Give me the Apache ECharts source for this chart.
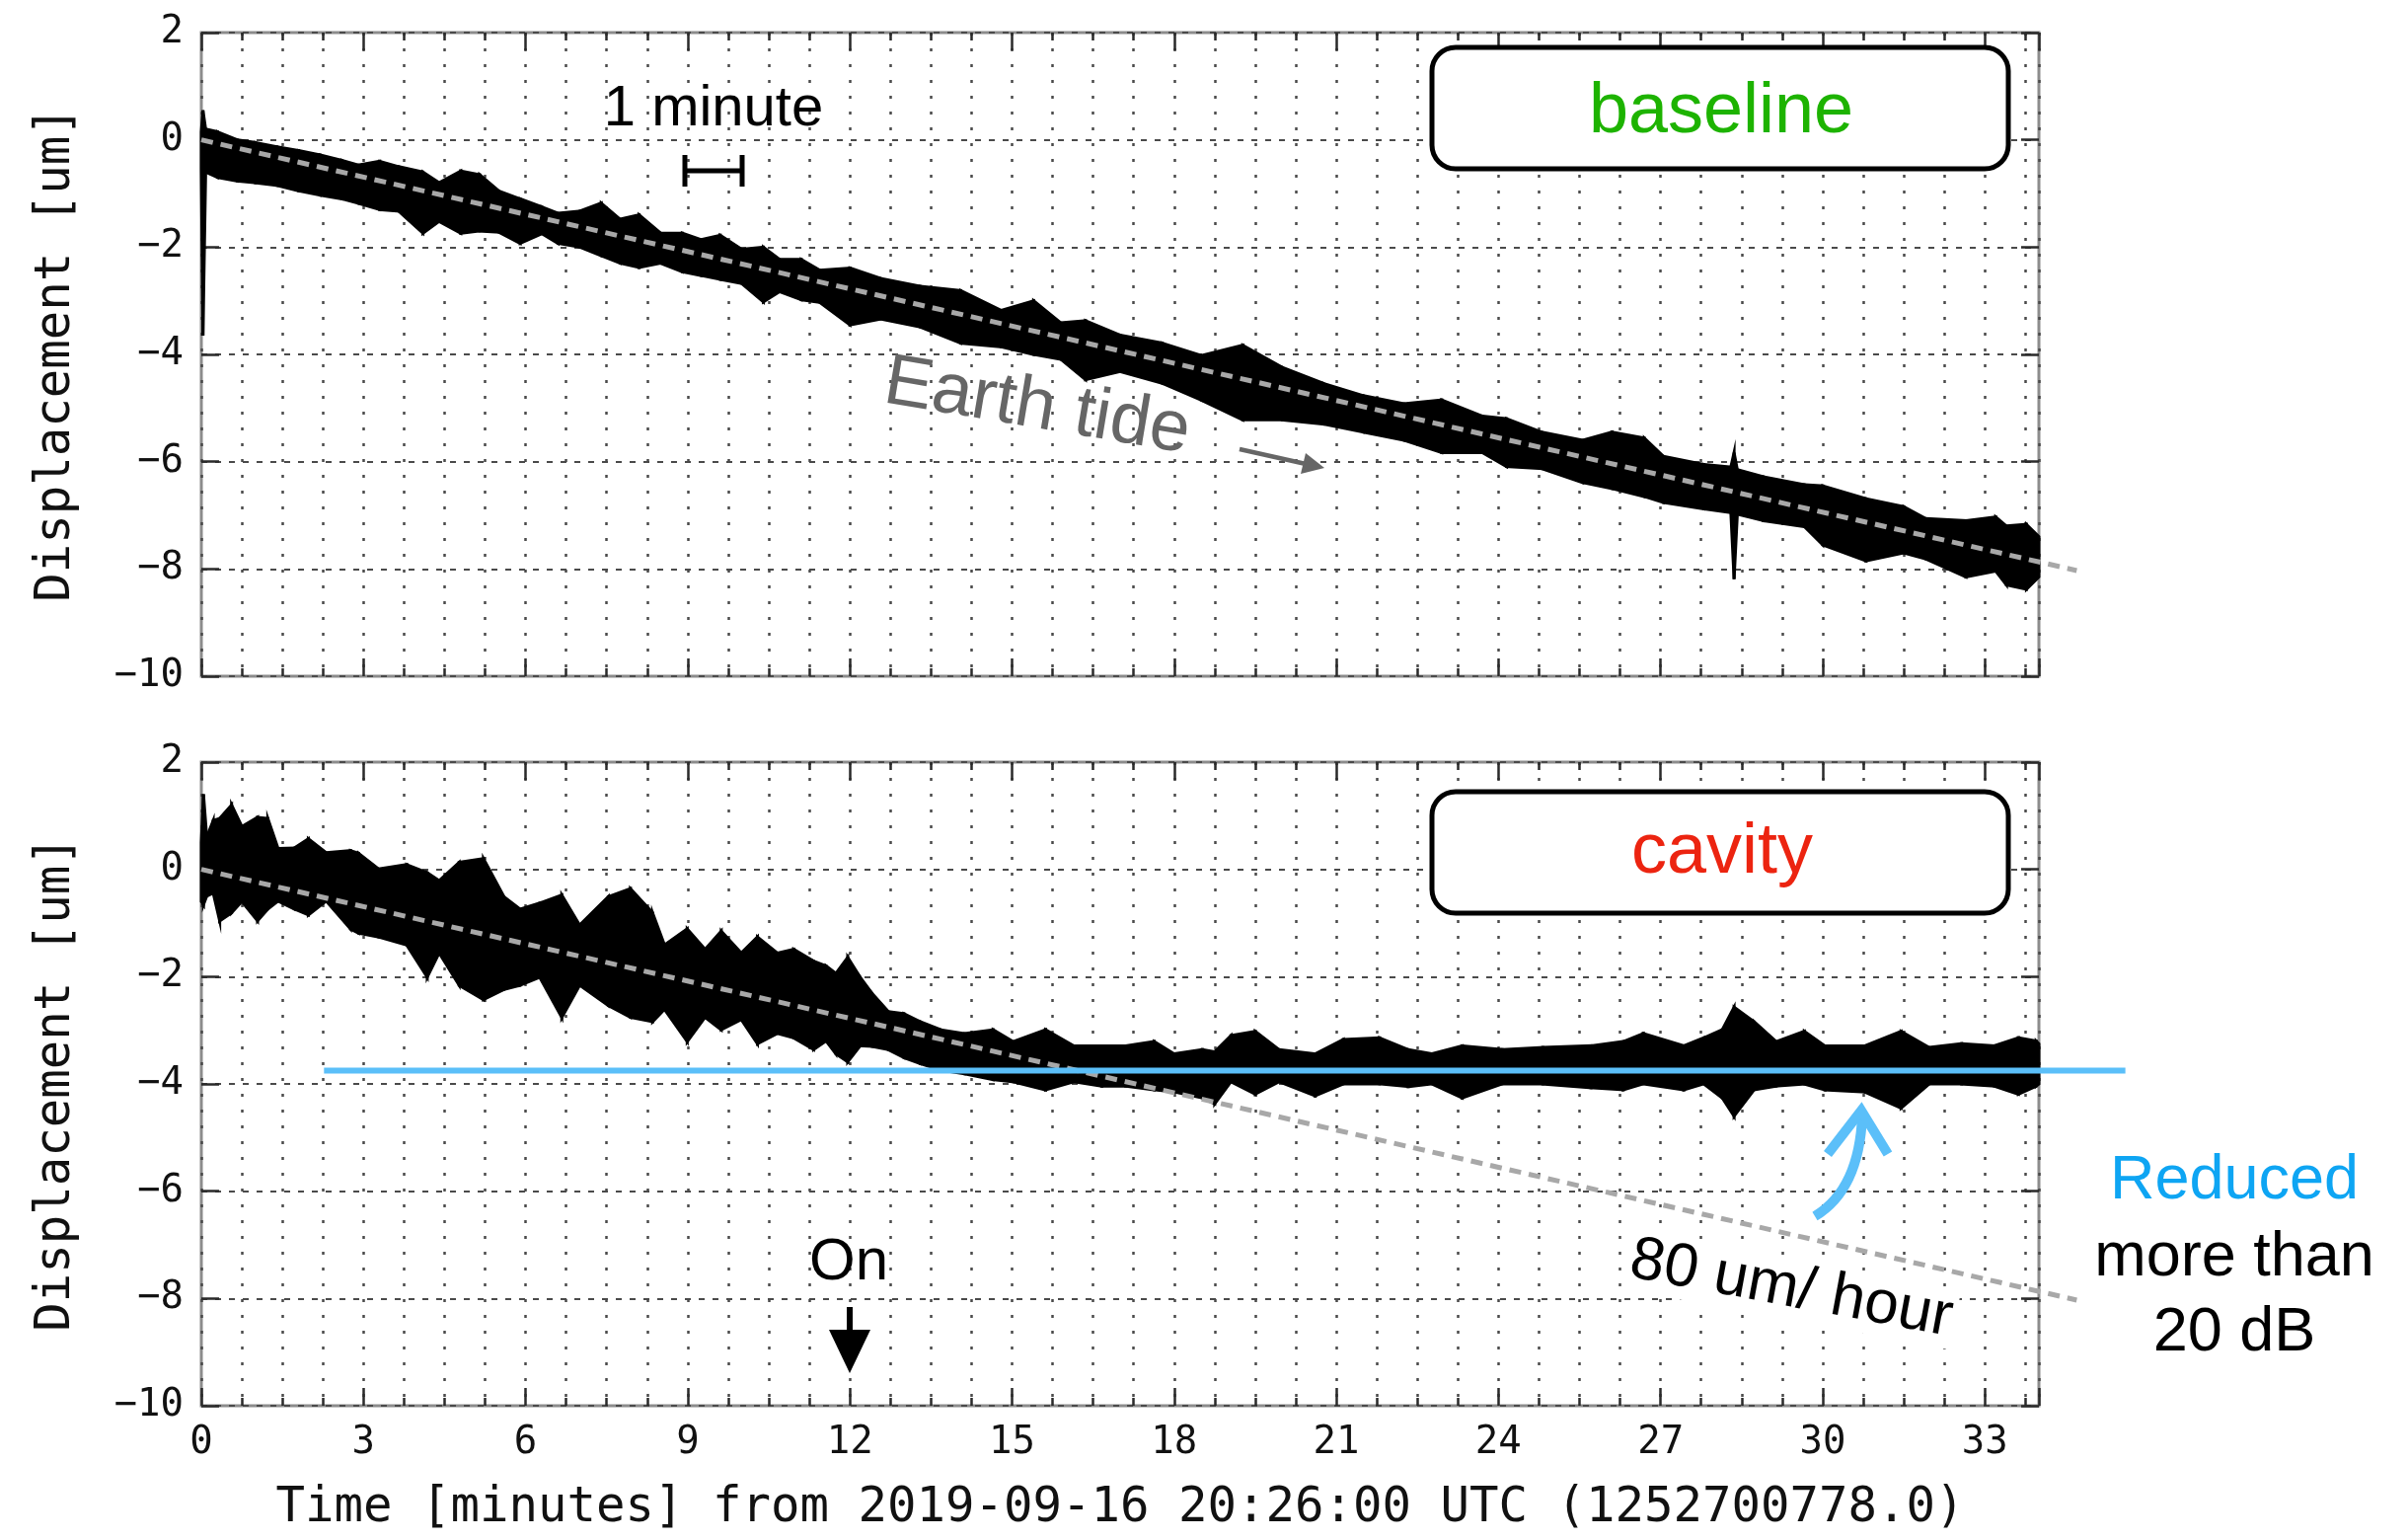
<!DOCTYPE html>
<html>
<head>
<meta charset="utf-8">
<script src="https://cdn.jsdelivr.net/npm/echarts@6/dist/echarts.min.js"></script>
<style>html,body{margin:0;padding:0;background:#fff}#c{width:2440px;height:1560px}</style>
</head>
<body>
<div id="c"></div>
<script>
// ---------- data ----------
// baseline panel: time [min], upper / lower envelope of the noisy trace [um]
const baselineT = [0,0.03,0.08,0.3,0.67,1.0,1.4,1.8,2.2,2.6,2.9,3.3,3.65,4.1,4.4,4.8,5.15,5.5,5.9,6.3,6.6,7.0,7.4,7.75,8.1,8.5,8.9,9.25,9.6,10.0,10.4,10.7,11.1,11.44,12.0,12.56,13.3,14.05,14.8,15.4,15.9,16.36,17.0,17.78,18.5,19.27,20.0,20.76,21.5,22.25,22.95,23.7,24.15,24.8,25.56,26.1,26.7,27.05,27.8,28.3,28.36,28.42,28.9,29.66,30.0,30.8,31.5,31.9,32.65,33.2,33.4,33.77,34.0];
const baselineUpper = [0.15,0.55,0.2,0.15,0.0,-0.05,-0.13,-0.2,-0.28,-0.38,-0.47,-0.4,-0.5,-0.6,-0.8,-0.58,-0.65,-0.95,-1.1,-1.25,-1.37,-1.33,-1.18,-1.48,-1.4,-1.74,-1.74,-1.86,-1.78,-2.04,-2.0,-2.23,-2.23,-2.43,-2.39,-2.58,-2.73,-2.81,-3.18,-3.0,-3.41,-3.37,-3.64,-3.79,-4.02,-3.83,-4.24,-4.54,-4.77,-4.92,-4.85,-5.15,-5.2,-5.45,-5.6,-5.45,-5.56,-5.9,-6.05,-6.1,-5.83,-6.15,-6.28,-6.43,-6.45,-6.69,-6.84,-7.06,-7.1,-7.03,-7.2,-7.17,-7.4];
const baselineLower = [-0.55,-3.65,-0.6,-0.7,-0.77,-0.8,-0.85,-0.95,-1.03,-1.1,-1.18,-1.3,-1.33,-1.74,-1.52,-1.74,-1.7,-1.72,-1.93,-1.75,-1.93,-2.0,-2.16,-2.3,-2.38,-2.3,-2.46,-2.53,-2.6,-2.68,-3.02,-2.83,-2.98,-3.03,-3.45,-3.34,-3.49,-3.79,-3.86,-4.0,-4.09,-4.47,-4.32,-4.54,-4.85,-5.22,-5.22,-5.3,-5.45,-5.6,-5.83,-5.83,-6.09,-6.13,-6.39,-6.5,-6.65,-6.76,-6.88,-6.95,-8.19,-6.98,-7.1,-7.21,-7.55,-7.85,-7.7,-7.81,-8.15,-8.04,-8.3,-8.38,-8.15];

// cavity panel
const cavityT = [0,0.04,0.1,0.22,0.34,0.56,0.75,1.04,1.23,1.42,1.72,1.98,2.31,2.76,2.91,3.28,3.8,4.18,4.4,4.77,5.22,5.6,5.9,6.26,6.67,7.0,7.53,7.94,8.35,8.57,8.99,9.32,9.62,9.99,10.29,10.66,10.96,11.33,11.56,11.74,11.96,12.19,12.41,12.71,13.0,13.3,13.68,14.12,14.65,15.02,15.62,16.14,16.66,17.1,17.63,18.0,18.52,18.75,19.05,19.5,19.94,20.61,21.13,21.8,22.33,22.77,23.33,24.07,24.82,25.71,26.31,26.68,27.43,27.8,28.14,28.36,28.73,29.14,29.66,30.04,30.78,31.45,31.97,32.57,33.17,33.62,33.95,34.0];
const cavityUpper = [0.5,1.4,0.6,0.91,0.95,1.2,0.8,0.97,0.95,0.39,0.4,0.57,0.31,0.35,0.3,0.01,0.09,-0.06,-0.21,0.13,0.2,-0.51,-0.74,-0.63,-0.48,-1.04,-0.51,-0.36,-0.81,-1.41,-1.11,-1.49,-1.15,-1.56,-1.26,-1.56,-1.49,-1.71,-1.8,-1.94,-1.64,-2.01,-2.31,-2.65,-2.69,-2.84,-2.99,-3.06,-2.99,-3.21,-2.99,-3.29,-3.29,-3.29,-3.21,-3.44,-3.36,-3.4,-3.1,-3.02,-3.36,-3.44,-3.17,-3.14,-3.36,-3.44,-3.29,-3.36,-3.32,-3.29,-3.21,-3.06,-3.29,-3.14,-2.99,-2.57,-2.84,-3.21,-3.02,-3.29,-3.29,-3.02,-3.32,-3.25,-3.29,-3.14,-3.2,-3.25];
const cavityLower = [-0.6,-0.66,-0.5,-0.44,-0.96,-0.81,-0.6,-0.96,-0.74,-0.59,-0.74,-0.85,-0.59,-1.11,-1.19,-1.26,-1.41,-2.01,-1.56,-2.16,-2.43,-2.24,-2.16,-2.01,-2.76,-2.16,-2.54,-2.76,-2.84,-2.61,-3.21,-2.76,-2.99,-2.8,-3.25,-3.06,-3.14,-3.36,-3.2,-3.44,-3.59,-3.29,-3.3,-3.36,-3.51,-3.62,-3.74,-3.81,-3.92,-3.96,-4.11,-3.96,-4.04,-4.04,-4.11,-4.15,-4.26,-4.37,-3.96,-4.19,-3.96,-4.22,-4.0,-4.0,-4.05,-4.0,-4.26,-4.0,-4.0,-4.07,-4.11,-4.0,-4.11,-4.0,-4.26,-4.6,-4.11,-4.04,-4.0,-4.11,-4.15,-4.45,-4.0,-4.0,-4.04,-4.19,-4.04,-4.0];

// Earth-tide trend (gray dashed) and reduced level (blue)
const trendT = [0, 34.7];
const trendV = [0, -8.03];
const levelT = [2.27, 35.6];
const levelV = [-3.75, -3.75];

// axes
const xMin = 0, xMax = 34, xMajor = 3, xMinor = 0.75;
const yMin = -10, yMax = 2, yStep = 2;
const yName = 'Displacement [um]';
const xName = 'Time [minutes] from 2019-09-16 20:26:00 UTC (1252700778.0)';

// ---------- chart ----------
const MONO = 'DejaVu Sans Mono';
const SANS = 'Liberation Sans';
const tickStyle = {color:'#2a2a2a', width:2.5};
const fmtY = v => v < 0 ? '\u2212' + Math.abs(v) : String(v);

function xAxes(g, withLabels) {
  const c = {gridIndex:g, type:'value', min:xMin, max:xMax, axisLine:{show:false, onZero:false}};
  const major = Object.assign({}, c, {position:'bottom', interval:xMajor,
      axisTick:{inside:true, length:18, lineStyle:tickStyle}, splitLine:{show:false},
      axisLabel: withLabels ? {show:true, fontFamily:MONO, fontSize:39, color:'#111', margin:18,
        formatter: v => (Math.abs(v % xMajor) < 1e-9 && v < xMax) ? String(v) : ''} : {show:false}});
  if (withLabels) {
    Object.assign(major, {name:xName, nameLocation:'middle', nameGap:80,
      nameTextStyle:{fontFamily:MONO, fontSize:49, color:'#111'}});
  }
  return [
    Object.assign({}, c, {position:'bottom', interval:xMinor, axisLabel:{show:false},
      axisTick:{inside:true, length:8, lineStyle:tickStyle},
      splitLine:{show:true, lineStyle:{color:'#4a4a4a', width:2.5, type:[3,13]}}}),
    major,
    Object.assign({}, c, {position:'top', interval:xMinor, axisLabel:{show:false},
      axisTick:{inside:true, length:8, lineStyle:tickStyle}, splitLine:{show:false}}),
    Object.assign({}, c, {position:'top', interval:xMajor, axisLabel:{show:false},
      axisTick:{inside:true, length:18, lineStyle:tickStyle}, splitLine:{show:false}})
  ];
}
function yAxes(g) {
  const c = {gridIndex:g, type:'value', min:yMin, max:yMax, interval:yStep, axisLine:{show:false, onZero:false}};
  return [
    Object.assign({}, c, {position:'left', name:yName, nameLocation:'middle', nameGap:122,
      nameTextStyle:{fontFamily:MONO, fontSize:49, color:'#111'},
      axisLabel:{fontFamily:MONO, fontSize:39, color:'#111', margin:18, formatter:fmtY},
      axisTick:{inside:true, length:18, lineStyle:tickStyle},
      splitLine:{show:true, lineStyle:{color:'#4a4a4a', width:2, type:[6,8]}}}),
    Object.assign({}, c, {position:'right', axisLabel:{show:false},
      axisTick:{inside:true, length:18, lineStyle:tickStyle}, splitLine:{show:false}})
  ];
}
// noisy trace drawn as a filled band between the upper and lower envelope
function band(xi, yi, t, up, lo) {
  return {type:'custom', xAxisIndex:xi, yAxisIndex:yi, silent:true, z:3,
    data:t.map((x,i)=>[x, up[i], lo[i]]),
    encode:{x:0, y:[1,2]},
    renderItem:(params, api) => {
      const i = params.dataIndexInside;
      if (i + 1 >= params.dataInsideLength) return null;
      const a = api.coord([api.value(0,i), api.value(1,i)]);
      const b = api.coord([api.value(0,i+1), api.value(1,i+1)]);
      const c = api.coord([api.value(0,i+1), api.value(2,i+1)]);
      const d = api.coord([api.value(0,i), api.value(2,i)]);
      return {type:'polygon', shape:{points:[a,b,c,d]}, style:{fill:'#000', stroke:'#000', lineWidth:3, lineJoin:'miter'}};
    }};
}
// straight segments (allowed to run past the plot frame)
function seg(xi, yi, T, V, style, z) {
  return {type:'custom', xAxisIndex:xi, yAxisIndex:yi, silent:true, clip:false, z:z,
    data:T.map((x,i)=>[x, V[i]]),
    encode:{x:0, y:1},
    renderItem:(params, api) => {
      const i = params.dataIndexInside;
      if (i + 1 >= params.dataInsideLength) return null;
      const a = api.coord([api.value(0,i), api.value(1,i)]);
      const b = api.coord([api.value(0,i+1), api.value(1,i+1)]);
      return {type:'line', shape:{x1:a[0], y1:a[1], x2:b[0], y2:b[1]}, style:Object.assign({fill:null}, style)};
    }};
}

const gridBase = {left:204, width:1862, height:652, show:true, borderColor:'#8c8c8c', borderWidth:3};
const trendStyle = {stroke:'#a8a8a8', lineWidth:5, lineDash:[12,8]};

const deg = Math.PI/180;
const blue = '#5bbff9';
const ctr = {align:'center', verticalAlign:'middle', textAlign:'center', textVerticalAlign:'middle'};
const T = (txt, x, y, size, fill, extra) => ({type:'text', x:x, y:y, z:101,
  style:Object.assign({text:txt, fontFamily:SANS, fontSize:size, fill:fill}, ctr, extra || {})});
const graphics = [
  // 1 minute scale bar
  T('1 minute', 723, 111, 58, '#000'),
  {type:'line', z:100, shape:{x1:694, y1:173, x2:752, y2:173}, style:{stroke:'#000', lineWidth:5}},
  {type:'line', z:100, shape:{x1:694, y1:157, x2:694, y2:189}, style:{stroke:'#000', lineWidth:5}},
  {type:'line', z:100, shape:{x1:752, y1:157, x2:752, y2:189}, style:{stroke:'#000', lineWidth:5}},
  // label boxes
  {type:'rect', z:100, shape:{x:1451, y:48, width:584, height:123, r:24}, style:{fill:'#fff', stroke:'#000', lineWidth:5}},
  T('baseline', 1744, 114, 72, '#1db300'),
  {type:'rect', z:100, shape:{x:1451, y:802, width:584, height:123, r:24}, style:{fill:'#fff', stroke:'#000', lineWidth:5}},
  T('cavity', 1745, 864, 72, '#ec2410'),
  // Earth tide
  Object.assign(T('Earth tide', 1051, 413, 73, '#666'), {rotation:-9.5*deg}),
  {type:'line', z:100, shape:{x1:1256, y1:455, x2:1321, y2:469.5}, style:{stroke:'#666', lineWidth:4.5}},
  {type:'polygon', z:100, shape:{points:[[1342,474],[1318,480],[1323,459]]}, style:{fill:'#666'}},
  // On
  T('On', 860, 1279, 60, '#000'),
  {type:'line', z:100, shape:{x1:861, y1:1324, x2:861, y2:1352}, style:{stroke:'#000', lineWidth:6}},
  {type:'polygon', z:100, shape:{points:[[840,1347],[882,1347],[861,1391]]}, style:{fill:'#000'}},
  // 80 um/ hour
  Object.assign(T('80 um/ hour', 1815, 1306, 62, '#000', {backgroundColor:'#fff', padding:[0,4]}), {rotation:-10.5*deg}),
  // blue curved arrow
  {type:'bezierCurve', z:100, shape:{x1:1839, y1:1232, cpx1:1884, cpy1:1205, x2:1887, y2:1130}, style:{stroke:blue, lineWidth:10, fill:null}},
  {type:'polyline', z:100, shape:{points:[[1852,1169],[1886,1125],[1913,1169]]}, style:{stroke:blue, lineWidth:10, fill:null}},
  // Reduced more than 20 dB
  T('Reduced', 2264, 1197, 63, '#0ea5f3'),
  T('more than', 2264, 1275, 63, '#000'),
  T('20 dB', 2264, 1351, 63, '#000')
];

const option = {
  animation:false,
  backgroundColor:'#fff',
  grid:[Object.assign({top:33}, gridBase), Object.assign({top:772}, gridBase)],
  xAxis:[].concat(xAxes(0,false), xAxes(1,true)),
  yAxis:[].concat(yAxes(0), yAxes(1)),
  series:[
    band(0,0, baselineT, baselineUpper, baselineLower),
    seg(0,0, trendT, trendV, trendStyle, 5),
    band(4,2, cavityT, cavityUpper, cavityLower),
    seg(4,2, trendT, trendV, trendStyle, 5),
    seg(4,2, levelT, levelV, {stroke:blue, lineWidth:6}, 6)
  ],
  graphic:graphics
};
const chart = echarts.init(document.getElementById('c'), null, {renderer:'canvas'});
chart.setOption(option);
</script>
</body>
</html>
